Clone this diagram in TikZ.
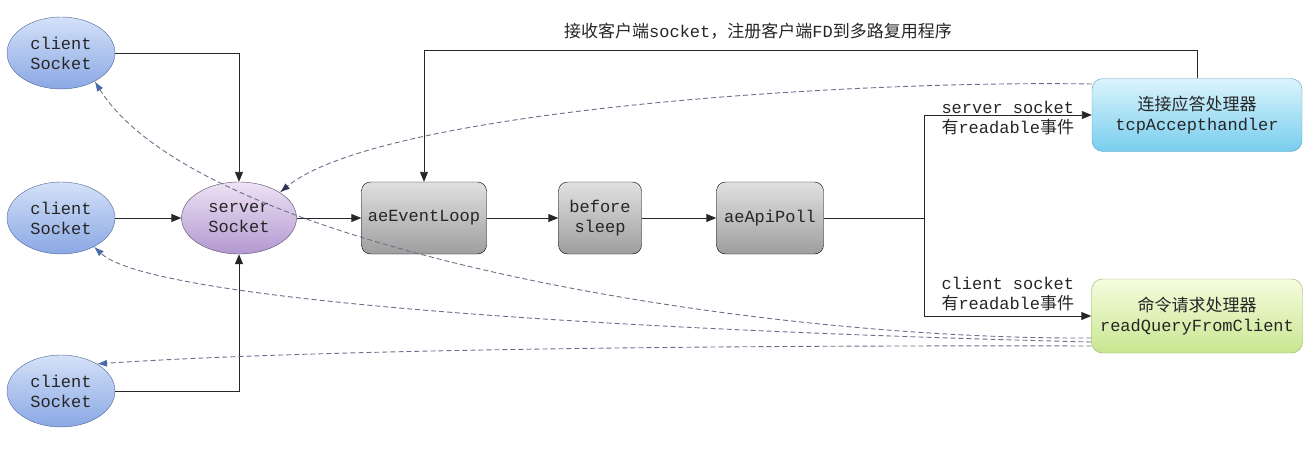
\documentclass[tikz,border=0pt]{standalone}
\usepackage{fontspec}
\setmonofont{Liberation Mono}
\newfontfamily\cjk{Noto Sans CJK SC}
\usetikzlibrary{arrows.meta,shapes.geometric}
\definecolor{cliT}{RGB}{212,225,248}
\definecolor{cliD}{RGB}{138,168,228}
\definecolor{cliB}{RGB}{78,102,150}
\definecolor{srvT}{RGB}{238,226,244}
\definecolor{srvD}{RGB}{178,152,208}
\definecolor{srvB}{RGB}{90,75,110}
\definecolor{accT}{RGB}{220,244,252}
\definecolor{accD}{RGB}{120,205,238}
\definecolor{accB}{RGB}{90,160,190}
\definecolor{rqT}{RGB}{246,252,222}
\definecolor{rqD}{RGB}{200,230,145}
\definecolor{rqB}{RGB}{150,175,110}
\definecolor{dashC}{RGB}{105,112,135}
\definecolor{tipC}{RGB}{72,108,170}
\definecolor{navyC}{RGB}{50,52,85}
\tikzset{
  every node/.style={font=\ttfamily\fontsize{17}{20}\selectfont, text=black!85, align=center},
  clientS/.style ={ellipse, draw=cliB, top color=cliT, bottom color=cliD, minimum width=108pt, minimum height=72pt, inner sep=0pt},
  serverS/.style ={ellipse, draw=srvB, top color=srvT, bottom color=srvD, minimum width=115pt, minimum height=72pt, inner sep=0pt},
  stepS/.style   ={draw=black, rounded corners=9pt, top color=black!12, bottom color=black!38, minimum height=72pt, inner sep=0pt},
  accS/.style    ={draw=accB, rounded corners=11pt, top color=accT, bottom color=accD, minimum width=210pt, minimum height=73pt, inner sep=0pt},
  rqS/.style     ={draw=rqB, rounded corners=11pt, top color=rqT, bottom color=rqD, minimum width=211pt, minimum height=74pt, inner sep=0pt},
  flow/.style    ={draw=black!85, line width=0.9pt, -{Triangle[length=10pt,width=8pt]}},
  back/.style    ={draw=dashC, line width=0.9pt, dash pattern=on 5pt off 3pt, -{Latex[length=10pt,width=7pt,color=#1]}},
  back/.default=tipC,
}
\begin{document}
\begin{tikzpicture}[x=1pt,y=-1pt]
  \useasboundingbox (0,0) rectangle (1312,471);
  \node[clientS] (c1) at (61,53)  {client\\Socket};
  \node[clientS] (c2) at (61,218) {client\\Socket};
  \node[clientS] (c3) at (61,391) {client\\Socket};
  \node[serverS] (srv) at (239,218) {server\\Socket};
  \node[stepS, minimum width=125pt] (loop)  at (424,218) {aeEventLoop};
  \node[stepS, minimum width=83pt]  (sleep) at (600,218) {before\\sleep};
  \node[stepS, minimum width=107pt] (poll)  at (770,218) {aeApiPoll};
  \node[accS] (acc) at (1197,115) {{\cjk 连接应答处理器}\\tcpAccepthandler};
  \node[rqS]  (rq)  at (1197,316) {{\cjk 命令请求处理器}\\readQueryFromClient};
  \coordinate (fork) at (924,218);
  \draw[flow] (c1.east) -| (srv.north);
  \draw[flow] (c2) -- (srv);
  \draw[flow] (c3.east) -| (srv.south);
  \draw[flow] (srv) -- (loop);
  \draw[flow] (loop) -- (sleep);
  \draw[flow] (sleep) -- (poll);
  \draw[line width=0.9pt, black!85] (poll.east) -- (fork);
  \draw[flow] (fork) |- (acc.west);
  \draw[flow] (fork) |- (rq.west);
  \node[anchor=west, align=left] (lblS) at (938,118) {server socket\\{\cjk 有}readable{\cjk 事件}};
  \node[anchor=west, align=left] (lblC) at (938,294) {client socket\\{\cjk 有}readable{\cjk 事件}};
  \draw[flow] (acc.north) -- ++(0,-28) -| (loop.north);
  \node (lblTop) at (758,31) {{\cjk 接收客户端}socket{\cjk ，注册客户端}FD{\cjk 到多路复用程序}};
  \draw[back=navyC] ([yshift=31pt]acc.west) .. controls (850,80) and (380,110) .. (srv.32);
  \draw[back] ([yshift=-22pt]rq.west) .. controls (750,340) and (200,250) .. (c1.-40);
  \draw[back] ([yshift=-26pt]rq.west) .. controls (600,330) and (150,300) .. (c2.-41);
  \draw[back] ([yshift=-30pt]rq.west) .. controls (700,345) and (300,350) .. (c3.37);
\end{tikzpicture}
\end{document}
